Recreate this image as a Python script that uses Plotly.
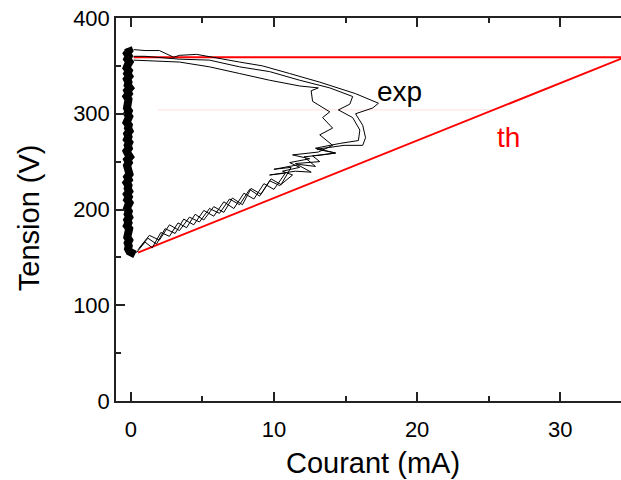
import plotly.graph_objects as go

# ---------------- data ----------------
# dense vertical band of measurements near I = 0
band_V = [369, 366, 363, 360, 357, 354, 351, 348, 345, 342, 339, 336, 333, 330, 327,
          324, 321, 318, 315, 312, 309, 306, 303, 300, 297, 294, 291, 288, 285, 282,
          279, 276, 273, 270, 267, 264, 261, 258, 255, 252, 249, 246, 243, 240, 237,
          234, 231, 228, 225, 222, 219, 216, 213, 210, 207, 204, 201, 198, 195, 192,
          189, 186, 183, 180, 177, 174, 171, 168, 165, 162, 159, 156, 153]
band_I = [-0.19, -0.11, -0.26, -0.14, -0.24, -0.09, -0.21, -0.29, -0.14, -0.24,
          -0.11, -0.26, -0.16, -0.21, -0.06, -0.24, -0.14, -0.29, -0.16, -0.19,
          -0.09, -0.26, -0.14, -0.24, -0.11, -0.21, -0.29, -0.14, -0.19, -0.09,
          -0.24, -0.16, -0.26, -0.11, -0.21, -0.14, -0.29, -0.19, -0.06, -0.24,
          -0.14, -0.26, -0.16, -0.19, -0.09, -0.24, -0.14, -0.29, -0.16, -0.21,
          -0.11, -0.26, -0.14, -0.24, -0.09, -0.19, -0.26, -0.14, -0.21, -0.11,
          -0.24, -0.16, -0.26, -0.11, -0.19, -0.14, -0.24, -0.11, -0.21, -0.14,
          -0.19, -0.09, 0.3]

# experimental loops (ascending jagged branch + return branch)
loop1_I = [0.4, 1.0, 1.5, 2.1, 2.7, 3.3, 3.9, 4.5, 5.1, 5.8, 6.5, 7.1, 7.8, 8.4, 9.1,
           9.8, 10.5, 11.2, 10.0, 11.8, 12.9, 12.1, 13.4, 14.3, 13.0, 14.9, 16.2, 16.4,
           16.2, 15.7, 16.9, 17.3,
           15.7, 13.2, 11.1, 9.2, 7.6, 5.7, 4.6, 3.4, 3.0, 2.0, 1.0, 0.2]
loop1_V = [155, 166, 160, 176, 172, 186, 181, 195, 189, 203, 197, 212, 205, 222, 216,
           232, 226, 244, 242, 247, 245, 255, 257, 259, 263, 267, 267, 275,
           288, 300, 306, 311,
           321, 333, 342, 350, 354, 359, 362, 361, 359, 366, 366, 367]

loop2_I = [0.5, 1.2, 1.8, 2.4, 3.1, 3.7, 4.4, 5.1, 5.8, 6.5, 7.2, 7.9, 8.6, 9.3,
           10.0, 10.8, 9.7, 11.5, 12.6, 11.5, 13.2, 12.7, 14.3, 12.9, 14.6, 15.9,
           16.0, 15.5, 14.5, 15.3, 15.5,
           13.9, 11.8, 9.7, 7.6, 5.5, 3.4, 2.0, 1.0, 0.2]
loop2_V = [158, 170, 164, 180, 175, 190, 184, 199, 193, 208, 201, 217, 211, 227,
           221, 238, 236, 240, 239, 248, 250, 256, 259, 264, 269, 272,
           283, 296, 304, 310, 318,
           327, 335, 344, 349, 356, 357, 359, 360, 360]

loop3_I = [0.6, 1.3, 2.0, 2.7, 3.4, 4.1, 4.8, 5.5, 6.2, 6.9, 7.6, 8.3, 9.0, 9.7,
           10.4, 11.3, 10.6, 11.8, 11.1, 12.5, 11.3, 13.1, 14.1, 13.2, 14.1, 13.4,
           13.9, 12.7, 12.6, 13.1,
           11.8, 9.7, 7.6, 5.5, 3.4, 1.7, 0.2]
loop3_V = [160, 173, 168, 184, 178, 192, 187, 201, 196, 211, 205, 221, 214, 230,
           225, 236, 240, 244, 249, 253, 257, 260, 267, 278, 285, 296,
           302, 313, 324, 327,
           329, 335, 342, 349, 354, 355, 356]

# theoretical characteristic
th_I = [0.5, 34.5, 0.2]
th_V = [155, 359, 359]

# faint reference level
ref_I = [1.9, 25.3]
ref_V = [304, 304]

FONT = "Liberation Sans, Arial, sans-serif"

fig = go.Figure()

fig.add_trace(go.Scatter(x=ref_I, y=ref_V, mode="lines",
                         line=dict(color="rgb(255,222,222)", width=1),
                         hoverinfo="skip", showlegend=False))
fig.add_trace(go.Scatter(x=th_I, y=th_V, mode="lines",
                         line=dict(color="#ff0000", width=2),
                         showlegend=False))
for xs, ys in [(loop1_I, loop1_V), (loop2_I, loop2_V), (loop3_I, loop3_V)]:
    fig.add_trace(go.Scatter(x=xs, y=ys, mode="lines",
                             line=dict(color="black", width=1),
                             showlegend=False))
fig.add_trace(go.Scatter(x=band_I, y=band_V, mode="lines",
                         line=dict(color="black", width=8),
                         showlegend=False))

fig.add_annotation(x=18.8, y=323.5, text="exp", showarrow=False,
                   xanchor="center", yanchor="middle",
                   font=dict(family=FONT, size=28, color="black"))
fig.add_annotation(x=26.4, y=275.4, text="th", showarrow=False,
                   xanchor="center", yanchor="middle",
                   font=dict(family=FONT, size=28, color="#ff0000"))

# axis titles
fig.add_annotation(xref="paper", yref="paper", x=0.509, y=-0.162,
                   text="Courant (mA)", showarrow=False,
                   xanchor="center", yanchor="middle",
                   font=dict(family=FONT, size=29, color="black"))
fig.add_annotation(xref="paper", yref="paper", x=-0.173, y=0.479,
                   text="Tension (V)", showarrow=False, textangle=-90,
                   xanchor="center", yanchor="middle",
                   font=dict(family=FONT, size=29, color="black"))

axis_common = dict(showline=True, linecolor="#222222", linewidth=1.5,
                   showgrid=False, zeroline=False, automargin=False,
                   ticks="inside", tickcolor="#222222", tickwidth=1.5, ticklen=9,
                   tickfont=dict(family=FONT, size=22, color="black"))

fig.update_layout(
    width=621, height=480,
    margin=dict(l=116, r=0, t=18, b=79),
    paper_bgcolor="white", plot_bgcolor="white",
    showlegend=False,
    xaxis=dict(range=[-1.03, 34.24], tick0=0, dtick=10, mirror="ticks",
               ticklabelstandoff=8,
               minor=dict(dtick=5, tick0=0, ticks="inside", ticklen=5,
                          tickcolor="#222222", tickwidth=1.5),
               **axis_common),
    yaxis=dict(range=[0, 400], tick0=0, dtick=100, mirror=False,
               minor=dict(dtick=50, tick0=0, ticks="inside", ticklen=5,
                          tickcolor="#222222", tickwidth=1.5),
               **axis_common),
)

fig.write_html("out.html",
               config={"displayModeBar": False},
               post_script="document.body.style.margin='0px';"
                           "document.body.style.overflow='hidden';")
